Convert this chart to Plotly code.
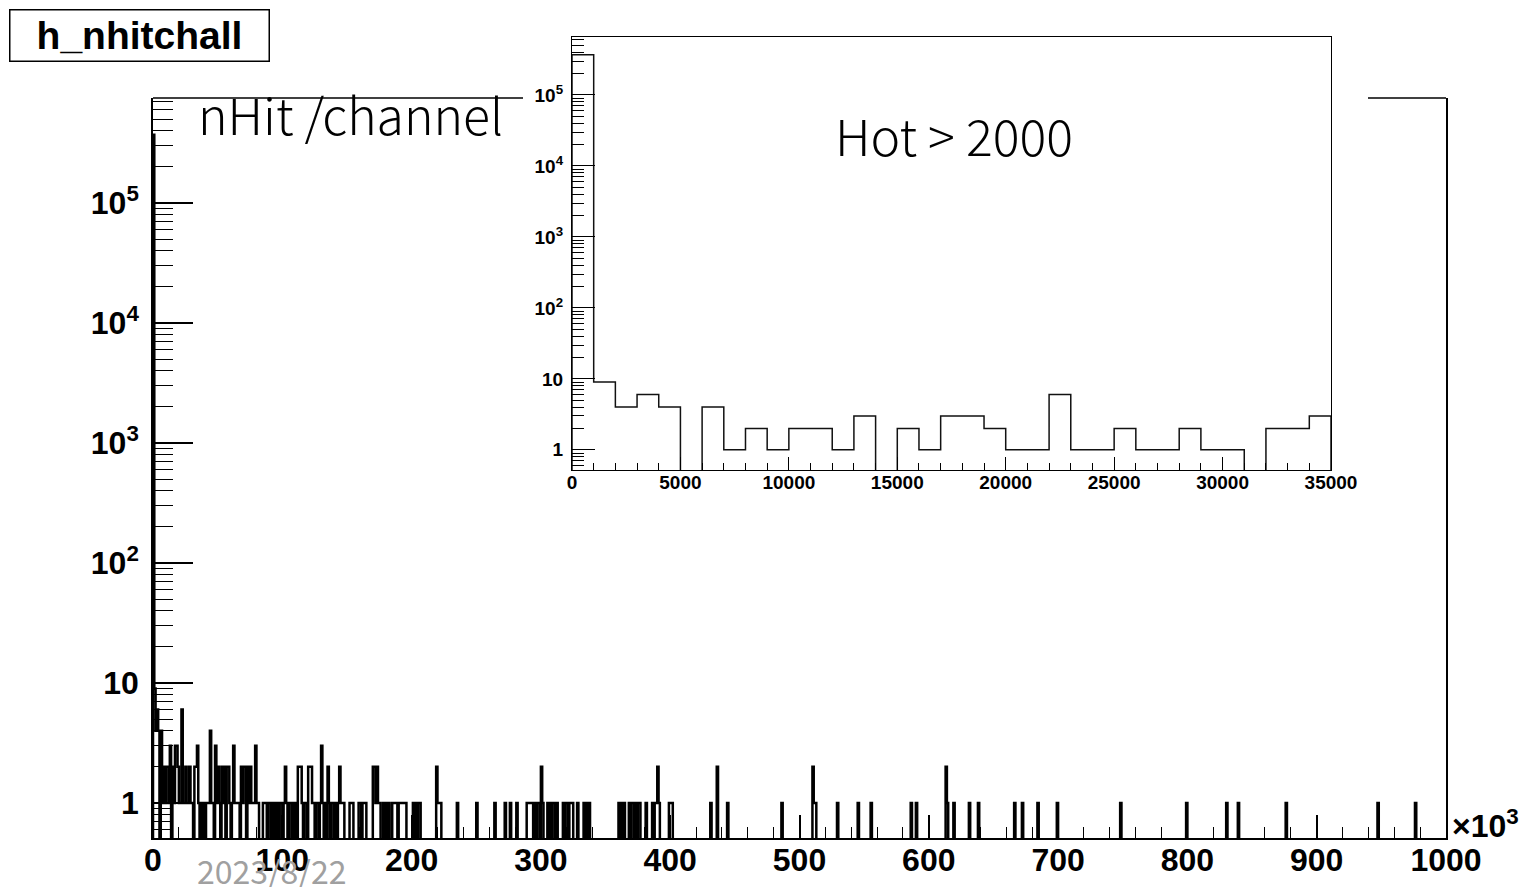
import numpy as np
import plotly.graph_objects as go

W, H = 1524, 887

# ---------------- data ----------------
# inset histogram: 35 bins of width 1000 from 0 to 35000
inset_bin_width = 1000
inset_counts = [370000, 9, 4, 6, 4, 0, 4, 1, 2, 1, 2, 2, 1, 3, 0, 2, 1, 3, 3, 2,
                1, 1, 6, 1, 1, 2, 1, 1, 2, 1, 1, 0, 2, 2, 3]

# main histogram: 1000 bins of width 1 (x10^3) from 0 to 1000; bins 0-34 as inset
main_nbins = 1000
main_bin_index = [35, 37, 39, 41, 42, 43, 44, 45, 46, 48, 49, 50, 51, 53, 54, 55, 57, 58, 59, 61,
                  62, 63, 64, 65, 66, 68, 69, 70, 71, 73, 74, 75, 76, 77, 78, 79, 80, 81, 85, 86,
                  87, 89, 90, 92, 94, 96, 98, 99, 101, 102, 103, 105, 106, 108, 110, 112, 113, 114, 115, 117,
                  118, 120, 121, 122, 123, 124, 126, 127, 129, 130, 131, 133, 135, 136, 138, 139, 141, 143, 144, 145,
                  146, 147, 152, 153, 154, 159, 160, 162, 163, 164, 170, 171, 172, 173, 174, 175, 178, 180, 182, 185,
                  186, 187, 188, 190, 191, 192, 193, 194, 195, 201, 203, 205, 206, 219, 220, 221, 222, 235, 250, 264,
                  272, 276, 281, 289, 290, 291, 292, 293, 295, 297, 298, 300, 301, 305, 307, 309, 310, 312, 317, 319,
                  320, 322, 323, 324, 328, 333, 335, 337, 360, 362, 364, 368, 370, 371, 373, 375, 376, 381, 386, 388,
                  389, 390, 391, 399, 400, 401, 431, 436, 444, 486, 510, 511, 512, 529, 545, 555, 586, 590, 613, 614,
                  619, 631, 638, 666, 672, 684, 699, 748, 799, 830, 839, 876, 947, 976]
main_bin_count = [1, 1, 1, 1, 1, 1, 4, 1, 1, 3, 1, 2, 1, 2, 1, 2, 2, 2, 1, 1,
                  3, 1, 1, 1, 1, 2, 1, 2, 2, 2, 1, 2, 1, 1, 1, 3, 1, 1, 1, 1,
                  1, 1, 1, 1, 1, 1, 1, 1, 1, 2, 1, 1, 1, 1, 1, 2, 2, 2, 1, 1,
                  1, 2, 2, 2, 1, 1, 1, 1, 1, 3, 1, 1, 2, 1, 1, 1, 1, 1, 2, 1,
                  1, 1, 1, 1, 1, 1, 1, 1, 1, 1, 2, 2, 1, 2, 1, 1, 1, 1, 1, 1,
                  1, 1, 1, 1, 1, 1, 1, 1, 1, 1, 1, 1, 1, 2, 1, 1, 1, 1, 1, 1,
                  1, 1, 1, 1, 1, 1, 1, 1, 1, 1, 1, 2, 1, 1, 1, 1, 1, 1, 1, 1,
                  1, 1, 1, 1, 1, 1, 1, 1, 1, 1, 1, 1, 1, 1, 1, 1, 1, 1, 1, 1,
                  1, 2, 1, 1, 1, 1, 1, 2, 1, 1, 2, 1, 1, 1, 1, 1, 1, 1, 2, 1,
                  1, 1, 1, 1, 1, 1, 1, 1, 1, 1, 1, 1, 1, 1]

main_x_tickvals = [0, 100, 200, 300, 400, 500, 600, 700, 800, 900, 1000]
main_x_ticktext = ["0", "100", "200", "300", "400", "500", "600", "700", "800", "900", "1000"]
log_tickvals = [1, 10, 100, 1000, 10000, 100000]
log_ticktext = ["1", "10", "10<sup>2</sup>", "10<sup>3</sup>", "10<sup>4</sup>", "10<sup>5</sup>"]
inset_x_tickvals = [0, 5000, 10000, 15000, 20000, 25000, 30000, 35000]
inset_x_ticktext = ["0", "5000", "10000", "15000", "20000", "25000", "30000", "35000"]

title_text = "h_nhitchall"
main_label = "nHit /channel"
inset_label = "Hot > 2000"
date_text = "2023/8/22"

# ---------------- helpers ----------------
def px(x):
    return x / W

def py(y):
    return 1 - y / H

FLOOR = 0.1  # display value for empty bins (below the log axis range)

def step_outline(counts, bin_width):
    c = np.asarray(counts, dtype=float)
    n = len(c)
    edges = np.arange(n + 1) * bin_width
    yv = np.where(c > 0, c, FLOOR)
    xs = np.concatenate([[edges[0]], edges[:-1], [edges[-1]], [edges[-1]]])
    ys = np.concatenate([[FLOOR], yv, [yv[-1]], [FLOOR]])
    return xs, ys

def minor_log_vals(lo, hi):
    vals = []
    for k in range(-1, 7):
        for m in range(2, 10):
            v = m * 10.0 ** k
            if lo < v < hi:
                vals.append(v)
    return vals

main_counts = np.zeros(main_nbins)
main_counts[:len(inset_counts)] = inset_counts
main_counts[main_bin_index] = main_bin_count

mx, my = step_outline(main_counts, 1)
ix, iy = step_outline(inset_counts, inset_bin_width)

main_yrange = [np.log10(0.51), 5.875]
inset_yrange = [np.log10(0.52), 5.817]

fig = go.Figure()
fig.add_trace(go.Scatter(x=mx, y=my, mode="lines", line=dict(color="black", width=2.5, shape="hv"),
                         xaxis="x", yaxis="y", hoverinfo="skip", showlegend=False))
fig.add_trace(go.Scatter(x=ix, y=iy, mode="lines", line=dict(color="#111111", width=1.5, shape="hv"),
                         xaxis="x2", yaxis="y2", hoverinfo="skip", showlegend=False))

bold = dict(family="Liberation Sans, Arial, sans-serif", color="black", weight=700)

fig.update_layout(
    width=W, height=H, autosize=False,
    margin=dict(l=0, r=0, t=0, b=0, pad=0, autoexpand=False),
    paper_bgcolor="white", plot_bgcolor="white",
    showlegend=False,
    xaxis=dict(domain=[px(153), px(1446)], range=[0, 1000], anchor="y", automargin=False,
               showgrid=False, zeroline=False, showline=True, linecolor="black", linewidth=1.5,
               ticks="inside", ticklen=23, tickwidth=1.5, tickcolor="black",
               tickmode="array", tickvals=main_x_tickvals, ticktext=main_x_ticktext,
               tickfont=dict(size=32, **bold), ticklabelstandoff=-7,
               minor=dict(ticks="inside", dtick=20, tick0=0, ticklen=11, tickwidth=1.2, tickcolor="black")),
    yaxis=dict(domain=[py(838), py(98)], type="log", range=main_yrange, anchor="x", automargin=False,
               showgrid=False, zeroline=False, showline=True, linecolor="black", linewidth=1.5, mirror=True,
               ticks="inside", ticklen=40, tickwidth=1.5, tickcolor="black",
               tickmode="array", tickvals=log_tickvals, ticktext=log_ticktext,
               tickfont=dict(size=32, **bold), ticklabelstandoff=6,
               minor=dict(ticks="inside", tickmode="array",
                          tickvals=minor_log_vals(0.51, 7.5e5), ticklen=20, tickwidth=1.2, tickcolor="black")),
    xaxis2=dict(domain=[px(572), px(1331)], range=[0, 35000], anchor="y2", automargin=False,
                showgrid=False, zeroline=False, showline=True, linecolor="black", linewidth=1.2, mirror=True,
                ticks="inside", ticklen=13, tickwidth=1.2, tickcolor="black",
                tickmode="array", tickvals=inset_x_tickvals, ticktext=inset_x_ticktext,
                tickfont=dict(size=19, **bold), ticklabelstandoff=-5,
                minor=dict(ticks="inside", dtick=1000, tick0=0, ticklen=7, tickwidth=1, tickcolor="black")),
    yaxis2=dict(domain=[py(470), py(37)], type="log", range=inset_yrange, anchor="x2", automargin=False,
                showgrid=False, zeroline=False, showline=True, linecolor="black", linewidth=1.2, mirror=True,
                ticks="inside", ticklen=23, tickwidth=1.2, tickcolor="black",
                tickmode="array", tickvals=log_tickvals, ticktext=log_ticktext,
                tickfont=dict(size=19, **bold), ticklabelstandoff=4,
                minor=dict(ticks="inside", tickmode="array",
                           tickvals=minor_log_vals(0.52, 6.6e5), ticklen=12, tickwidth=1, tickcolor="black")),
)

# top frame line of the main pad, interrupted by the inset pad
for x0, x1 in [(153, 523), (1368, 1446)]:
    fig.add_shape(type="line", xref="paper", yref="paper", x0=px(x0), x1=px(x1), y0=py(98), y1=py(98),
                  line=dict(color="black", width=1.5))

# title box
fig.add_annotation(xref="paper", yref="paper", x=px(9), y=py(9), xanchor="left", yanchor="top",
                   text="<b>" + title_text + "</b>", showarrow=False,
                   font=dict(family="Liberation Sans, Arial, sans-serif", size=39, color="black"),
                   width=258, height=50, align="center", valign="middle",
                   bordercolor="black", borderwidth=1.5, borderpad=0, bgcolor="white")

fig.add_annotation(xref="paper", yref="paper", x=px(196), y=py(113), xanchor="left", yanchor="middle",
                   text=main_label, showarrow=False,
                   font=dict(family="Noto Sans CJK JP, Noto Sans, sans-serif", size=50, color="black", weight=300))

fig.add_annotation(xref="paper", yref="paper", x=px(954), y=py(134), xanchor="center", yanchor="middle",
                   text=inset_label, showarrow=False,
                   font=dict(family="Noto Sans CJK JP, Noto Sans, sans-serif", size=50, color="black", weight=300))

fig.add_annotation(xref="paper", yref="paper", x=px(1450), y=py(824), xanchor="left", yanchor="middle",
                   text="<b>×10<sup>3</sup></b>", showarrow=False,
                   font=dict(family="Liberation Sans, Arial, sans-serif", size=32, color="black"))

fig.add_annotation(xref="paper", yref="paper", x=px(195), y=py(870), xanchor="left", yanchor="middle",
                   text=date_text, showarrow=False,
                   font=dict(family="Noto Sans CJK JP, Noto Sans, sans-serif", size=32, color="#a0a0a0"))

fig.write_html("out.html")
